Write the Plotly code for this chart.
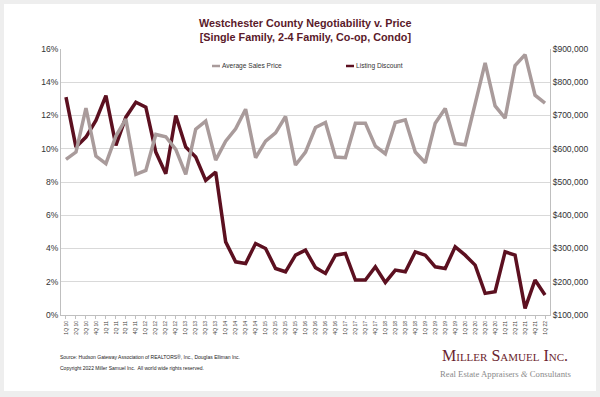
import plotly.graph_objects as go

quarters = [
    "1Q 10", "2Q 10", "3Q 10", "4Q 10", "1Q 11", "2Q 11", "3Q 11", "4Q 11",
    "1Q 12", "2Q 12", "3Q 12", "4Q 12", "1Q 13", "2Q 13", "3Q 13", "4Q 13",
    "1Q 14", "2Q 14", "3Q 14", "4Q 14", "1Q 15", "2Q 15", "3Q 15", "4Q 15",
    "1Q 16", "2Q 16", "3Q 16", "4Q 16", "1Q 17", "2Q 17", "3Q 17", "4Q 17",
    "1Q 18", "2Q 18", "3Q 18", "4Q 18", "1Q 19", "2Q 19", "3Q 19", "4Q 19",
    "1Q 20", "2Q 20", "3Q 20", "4Q 20", "1Q 21", "2Q 21", "3Q 21", "4Q 21",
    "1Q 22",
]

avg_sales_price = [
    568000, 590000, 722000, 578000, 555000, 638000, 689000, 523000,
    535000, 643000, 636000, 598000, 523000, 659000, 683000, 566000,
    623000, 660000, 719000, 573000, 623000, 648000, 697000, 551000,
    590000, 664000, 679000, 575000, 573000, 677000, 677000, 608000,
    585000, 679000, 687000, 590000, 558000, 677000, 721000, 616000,
    612000, 734000, 858000, 729000, 692000, 850000, 883000, 761000,
    737000,
]

listing_discount = [
    0.131, 0.101, 0.107, 0.117, 0.132, 0.102, 0.119, 0.128,
    0.125, 0.098, 0.085, 0.120, 0.101, 0.095, 0.081, 0.086,
    0.044, 0.032, 0.031, 0.043, 0.040, 0.028, 0.026, 0.036,
    0.039, 0.0285, 0.025, 0.036, 0.037, 0.021, 0.021, 0.029,
    0.0196, 0.027, 0.026, 0.038, 0.036, 0.029, 0.028, 0.041,
    0.036, 0.030, 0.013, 0.014, 0.038, 0.036, 0.004, 0.021,
    0.012,
]

TITLE = "Westchester County Negotiability v. Price<br>[Single Family, 2-4 Family, Co-op, Condo]"
SOURCE = "Source: Hudson Gateway Association of REALTORS®, Inc., Douglas Elliman Inc."
COPYRIGHT = "Copyright 2022 Miller Samuel Inc.  All world wide rights reserved."

GRAY = "#a99b9b"
MAROON = "#5c1020"

W, H = 600, 397
L, R, T, B = 61, 550, 49, 315


def px(x):
    return (x - L) / (R - L)


def py(y):
    return (B - y) / (B - T)


fig = go.Figure()
fig.add_trace(go.Scatter(
    x=quarters, y=avg_sales_price, yaxis="y2", mode="lines",
    name="Average Sales Price", line=dict(color=GRAY, width=3.5),
    showlegend=False,
))
fig.add_trace(go.Scatter(
    x=quarters, y=listing_discount, mode="lines",
    name="Listing Discount", line=dict(color=MAROON, width=3.5),
    showlegend=False,
))

font_main = "Liberation Sans, Arial, sans-serif"
font_serif = "Liberation Serif, Times New Roman, serif"

fig.update_layout(
    width=W, height=H,
    margin=dict(l=L, r=W - R, t=T, b=H - B),
    paper_bgcolor="#eeeeee",
    plot_bgcolor="white",
    font=dict(family=font_main, color="#333333"),
    xaxis=dict(
        type="category", range=[-0.5, len(quarters) - 0.5],
        tickangle=-90, tickfont=dict(size=5, color="#444444"),
        showgrid=False, showline=True, linecolor="#bfbfbf", linewidth=1,
        ticks="outside", ticklen=3, tickcolor="#bfbfbf",
    ),
    yaxis=dict(
        range=[0, 0.16], dtick=0.02, tickformat=".0%",
        tickfont=dict(size=8.5, color="#333333"),
        showgrid=True, gridcolor="#d9d9d9", gridwidth=1,
        showline=True, linecolor="#bfbfbf", zeroline=False, ticks="",
    ),
    yaxis2=dict(
        range=[100000, 900000], dtick=100000, tickformat="$,.0f",
        overlaying="y", side="right",
        tickfont=dict(size=8.5, color="#333333"),
        showgrid=False, showline=True, linecolor="#bfbfbf", zeroline=False,
    ),
    shapes=[
        dict(type="rect", xref="paper", yref="paper", layer="below",
             x0=px(4), x1=px(596), y0=py(391), y1=py(4),
             fillcolor="white", line=dict(width=0)),
        dict(type="line", xref="paper", yref="paper",
             x0=px(212), x1=px(220), y0=py(66), y1=py(66),
             line=dict(color=GRAY, width=2.5)),
        dict(type="line", xref="paper", yref="paper",
             x0=px(346), x1=px(354), y0=py(66), y1=py(66),
             line=dict(color=MAROON, width=2.5)),
    ],
    annotations=[
        dict(text="<b>" + TITLE + "</b>", xref="paper", yref="paper",
             x=px(305), y=py(30), showarrow=False, xanchor="center", yanchor="middle",
             font=dict(size=10.8, color="#5a1a2a", family=font_main)),
        dict(text="Average Sales Price", xref="paper", yref="paper",
             x=px(220), y=py(66), showarrow=False, xanchor="left", yanchor="middle",
             font=dict(size=6.6, color="#333333")),
        dict(text="Listing Discount", xref="paper", yref="paper",
             x=px(354), y=py(66), showarrow=False, xanchor="left", yanchor="middle",
             font=dict(size=6.6, color="#333333")),
        dict(text=SOURCE, xref="paper", yref="paper",
             x=px(58), y=py(357), showarrow=False, xanchor="left", yanchor="middle",
             font=dict(size=5, color="#222222")),
        dict(text=COPYRIGHT, xref="paper", yref="paper",
             x=px(58), y=py(368), showarrow=False, xanchor="left", yanchor="middle",
             font=dict(size=5, color="#222222")),
        dict(text="Miller Samuel Inc.", xref="paper", yref="paper",
             x=px(505), y=py(355), showarrow=False, xanchor="center", yanchor="middle",
             font=dict(size=16, color="#6b1e2e", family=font_serif, variant="small-caps")),
        dict(text="Real Estate Appraisers <i>&</i> Consultants", xref="paper", yref="paper",
             x=px(505), y=py(374), showarrow=False, xanchor="center", yanchor="middle",
             font=dict(size=8.7, color="#8a8a8a", family=font_serif)),
    ],
)

fig.write_html(
    "out.html",
    config={"displayModeBar": False},
    post_script="document.body.style.margin='0';document.body.style.overflow='hidden';",
)
